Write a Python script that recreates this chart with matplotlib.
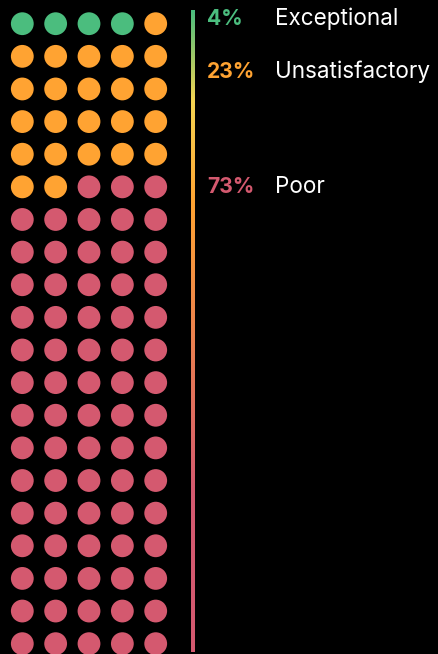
import numpy as np
import matplotlib.pyplot as plt
from matplotlib.patches import Circle
from matplotlib.colors import LinearSegmentedColormap

labels = ["Exceptional", "Unsatisfactory", "Poor"]
counts = [4, 23, 73]
colors = ["#4bbd7e", "#ffa332", "#d4596f"]
label_y = [19, 72, 187]

n_cols = 5
n_rows = 20

fig = plt.figure(figsize=(4.38, 6.54), dpi=100, facecolor="black")
ax = fig.add_axes([0, 0, 1, 1])
ax.set_facecolor("black")
ax.set_xlim(0, 438)
ax.set_ylim(654, 0)
ax.axis("off")

# waffle dots
dot_colors = []
for c, n in zip(colors, counts):
    dot_colors += [c] * n
x0, dx = 22.3, 33.35
y0, dy = 23.7, 32.63
for i, c in enumerate(dot_colors):
    r, col = divmod(i, n_cols)
    ax.add_patch(Circle((x0 + col * dx, y0 + r * dy), 11.4, color=c, lw=0))

# gradient line
cmap = LinearSegmentedColormap.from_list(
    "grad", [(0, colors[0]), (0.14, "#f5d552"), (0.3, colors[1]), (0.75, colors[2]), (1, colors[2])])
grad = np.linspace(0, 1, 256).reshape(-1, 1)
ax.imshow(grad, cmap=cmap, aspect="auto", extent=[190.6, 194.0, 652, 10], zorder=2)

font = ["Inter", "DejaVu Sans"]
for lab, n, c, y in zip(labels, counts, colors, label_y):
    ax.text(207, y, f"{n}%", color=c, fontsize=15.2, fontweight="bold",
            family=font, va="center", ha="left")
    ax.text(275, y, lab, color="white", fontsize=16.2, family=font,
            va="center", ha="left")

ax.set_xlim(0, 438)
ax.set_ylim(654, 0)
fig.savefig("out.png", dpi=100, facecolor="black")
